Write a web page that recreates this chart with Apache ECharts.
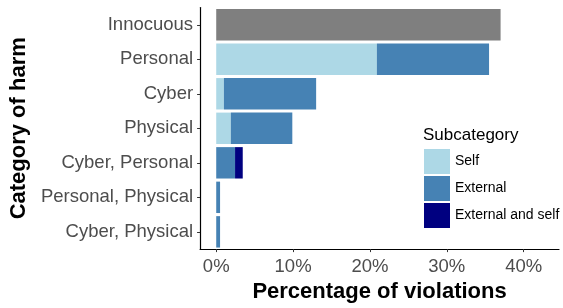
<!DOCTYPE html>
<html>
<head>
<meta charset="utf-8">
<script src="https://cdn.jsdelivr.net/npm/echarts@6/dist/echarts.min.js"></script>
<style>
  html, body { margin: 0; padding: 0; background: #fff; }
  #chart { width: 563px; height: 308px; }
</style>
</head>
<body>
<div id="chart"></div>
<script>
// categories top to bottom
const categories = ['Innocuous', 'Personal', 'Cyber', 'Physical', 'Cyber, Personal', 'Personal, Physical', 'Cyber, Physical']
// percentage of violations per subcategory
const innocuous = [37.0, '-', '-', '-', '-', '-', '-']
const selfVals = ['-', 20.9, 1.0, 1.9, '-', '-', '-']
const externalVals = ['-', 14.6, 12.0, 8.0, 2.45, 0.5, 0.5]
const extSelfVals = ['-', '-', '-', '-', 1.0, '-', '-']
const xTicks = [0, 10, 20, 30, 40]

const font = 'Liberation Sans, Arial, sans-serif'
const chart = echarts.init(document.getElementById('chart'))

function barSeries(name, data, color) {
  return {
    name: name,
    type: 'bar',
    stack: 'total',
    barCategoryGap: '9%',
    itemStyle: { color: color },
    emphasis: { disabled: true },
    data: data
  }
}

const option = {
  animation: false,
  grid: { left: 199, right: 4, top: 7.5, bottom: 55.5 },
  legend: {
    data: ['Self', 'External', 'External and self'],
    orient: 'vertical',
    left: 424,
    top: 149,
    padding: 0,
    itemWidth: 26,
    itemHeight: 25,
    itemGap: 2,
    icon: 'rect',
    textStyle: { fontFamily: font, fontSize: 14, color: '#000' }
  },
  graphic: [{
    type: 'text',
    left: 423,
    top: 127,
    style: { text: 'Subcategory', font: '17px ' + font, fill: '#000' }
  }],
  xAxis: {
    type: 'value',
    min: -2.1,
    max: 44.6,
    name: 'Percentage of violations',
    nameLocation: 'middle',
    nameGap: 26,
    nameTextStyle: { fontFamily: font, fontSize: 22, fontWeight: 'bold', color: '#000', verticalAlign: 'top' },
    axisLine: { show: true, lineStyle: { color: '#000', width: 1.2 } },
    axisTick: { show: true, length: 3, customValues: xTicks, lineStyle: { color: '#333' } },
    axisLabel: {
      customValues: xTicks,
      margin: 8,
      fontFamily: font,
      fontSize: 18.5,
      color: '#4d4d4d',
      formatter: v => v + '%'
    },
    splitLine: { show: false }
  },
  yAxis: {
    type: 'category',
    inverse: true,
    data: categories,
    name: 'Category of harm',
    nameLocation: 'middle',
    nameGap: 162,
    nameRotate: 90,
    nameTextStyle: { fontFamily: font, fontSize: 22, fontWeight: 'bold', color: '#000' },
    axisLine: { show: true, onZero: false, lineStyle: { color: '#000', width: 1.2 } },
    axisTick: { show: true, length: 3, alignWithLabel: true, lineStyle: { color: '#333' } },
    axisLabel: { margin: 7, fontFamily: font, fontSize: 18.5, color: '#4d4d4d' }
  },
  series: [
    barSeries('Innocuous', innocuous, '#7f7f7f'),
    barSeries('Self', selfVals, '#add8e6'),
    barSeries('External', externalVals, '#4682b4'),
    barSeries('External and self', extSelfVals, '#000080')
  ]
}
chart.setOption(option)
</script>
</body>
</html>
